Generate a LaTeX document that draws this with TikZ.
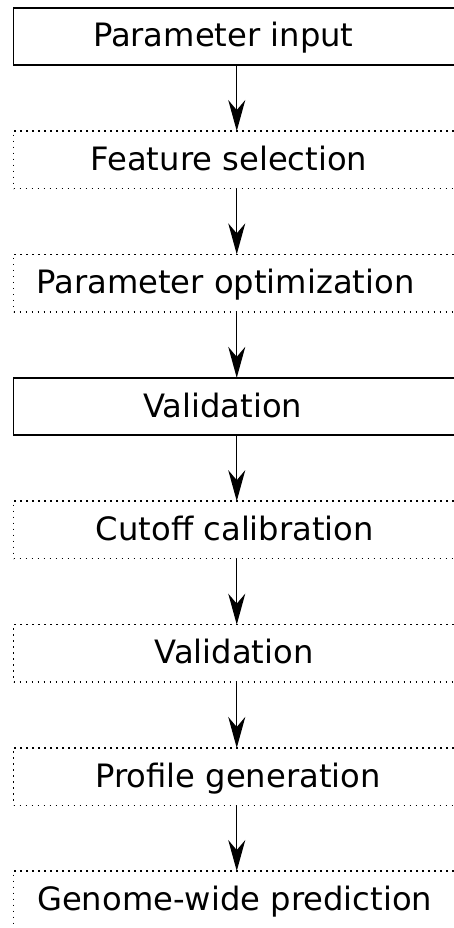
\documentclass[tikz,border=0pt]{standalone}
\usepackage{fontspec}
\setmainfont{DejaVu Sans}
\usetikzlibrary{arrows.meta}
\begin{document}
\begin{tikzpicture}[x=1pt,y=-1pt,
  box/.style={draw=black, minimum width=446.5pt, minimum height=57.5pt, inner sep=0pt, outer sep=0pt},
  solidbox/.style={box, line width=1.8pt},
  dotbox/.style={box, line width=1.6pt, dash pattern=on 1.6pt off 4.4pt},
  lbl/.style={anchor=base, inner sep=0pt, font=\fontsize{32.2}{38}\selectfont},
  flow/.style={line width=1.4pt, -{Stealth[length=31pt, width=17pt, inset=10pt]}}]
\clip (0,0) rectangle (454,928);
\useasboundingbox (0,0) rectangle (454,928);
\node[solidbox] (b1) at (236.75,36.5) {};
\node[dotbox]   (b2) at (236.75,159.8) {};
\node[dotbox]   (b3) at (236.75,283.1) {};
\node[solidbox] (b4) at (236.75,406.6) {};
\node[dotbox]   (b5) at (236.75,529.9) {};
\node[dotbox]   (b6) at (236.75,653.4) {};
\node[dotbox]   (b7) at (236.75,776.7) {};
\node[dotbox]   (b8) at (236.75,899.8) {};
\node[lbl] (t1) at (223.3,47.0) {Parameter input};
\node[lbl] (t2) at (229.0,170.3) {Feature selection};
\node[lbl] (t3) at (225.5,293.6) {Parameter optimization};
\node[lbl] (t4) at (222.8,417.1) {Validation};
\node[lbl] (t5) at (235.0,540.4) {Cutoff calibration};
\node[lbl] (t6) at (234.0,663.9) {Validation};
\node[lbl] (t7) at (238.0,787.2) {Profile generation};
\node[lbl] (t8) at (234.7,910.3) {Genome-wide prediction};
\foreach \a/\b in {b1/b2,b2/b3,b3/b4,b4/b5,b5/b6,b6/b7,b7/b8}
  \draw[flow] (\a.south) -- (\b.north);
\end{tikzpicture}
\end{document}
